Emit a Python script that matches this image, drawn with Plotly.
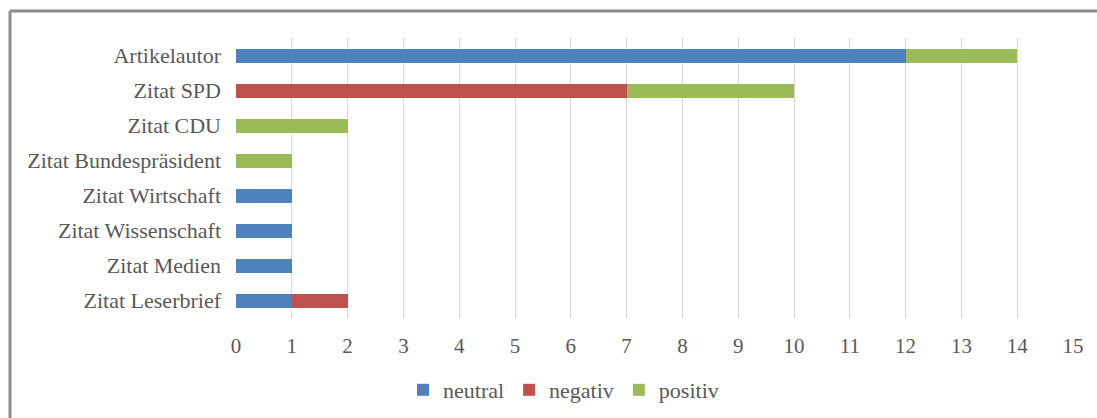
import plotly.graph_objects as go

categories = ["Artikelautor", "Zitat SPD", "Zitat CDU", "Zitat Bundespräsident",
              "Zitat Wirtschaft", "Zitat Wissenschaft", "Zitat Medien", "Zitat Leserbrief"]
neutral = [12, 0, 0, 0, 1, 1, 1, 1]
negativ = [0, 7, 0, 0, 0, 0, 0, 1]
positiv = [2, 3, 2, 1, 0, 0, 0, 0]
x_ticks = list(range(0, 16))

W, H = 1097, 418
ML, MR, MT, MB = 236, 24, 38, 100
PW, PH = W - ML - MR, H - MT - MB


def px_x(p):
    return (p - ML) / PW


def px_y(p):
    return (H - MB - p) / PH


font = dict(family="Liberation Serif, Times New Roman, serif", color="#595959")

fig = go.Figure()
for name, vals, col in [("neutral", neutral, "#4F81BD"),
                        ("negativ", negativ, "#C0504D"),
                        ("positiv", positiv, "#9BBB59")]:
    fig.add_trace(go.Bar(y=categories, x=vals, name=name, orientation="h",
                         marker=dict(color=col, line=dict(width=0)),
                         hoverinfo="x+y+name"))

fig.update_layout(
    barmode="stack",
    bargap=0.6,
    width=W, height=H,
    margin=dict(l=ML, r=MR, t=MT, b=MB, pad=0, autoexpand=False),
    paper_bgcolor="white", plot_bgcolor="white",
    font=dict(size=21, **font),
    xaxis=dict(range=[0, 15], tickvals=x_ticks, showgrid=True, gridcolor="#d9d9d9",
               gridwidth=1, zeroline=False, showline=False, ticks="",
               tickfont=dict(size=21, **font), ticklabelstandoff=13),
    yaxis=dict(autorange="reversed", showgrid=False, zeroline=False, showline=False,
               ticks="", tickfont=dict(size=22, **font), ticklabelstandoff=14),
    legend=dict(orientation="h", x=px_x(W / 2 + 15), xanchor="center",
                y=px_y(390), yanchor="middle", font=dict(size=22, **font),
                itemwidth=30, traceorder="normal"),
    showlegend=True,
    shapes=[
        dict(type="line", xref="paper", yref="paper", x0=px_x(10), x1=px_x(W + 20),
             y0=px_y(11), y1=px_y(11), line=dict(color="#8c8c8c", width=3)),
        dict(type="line", xref="paper", yref="paper", x0=px_x(10), x1=px_x(10),
             y0=px_y(11), y1=px_y(H + 20), line=dict(color="#8c8c8c", width=3)),
    ],
)

fig.write_html("out.html")
